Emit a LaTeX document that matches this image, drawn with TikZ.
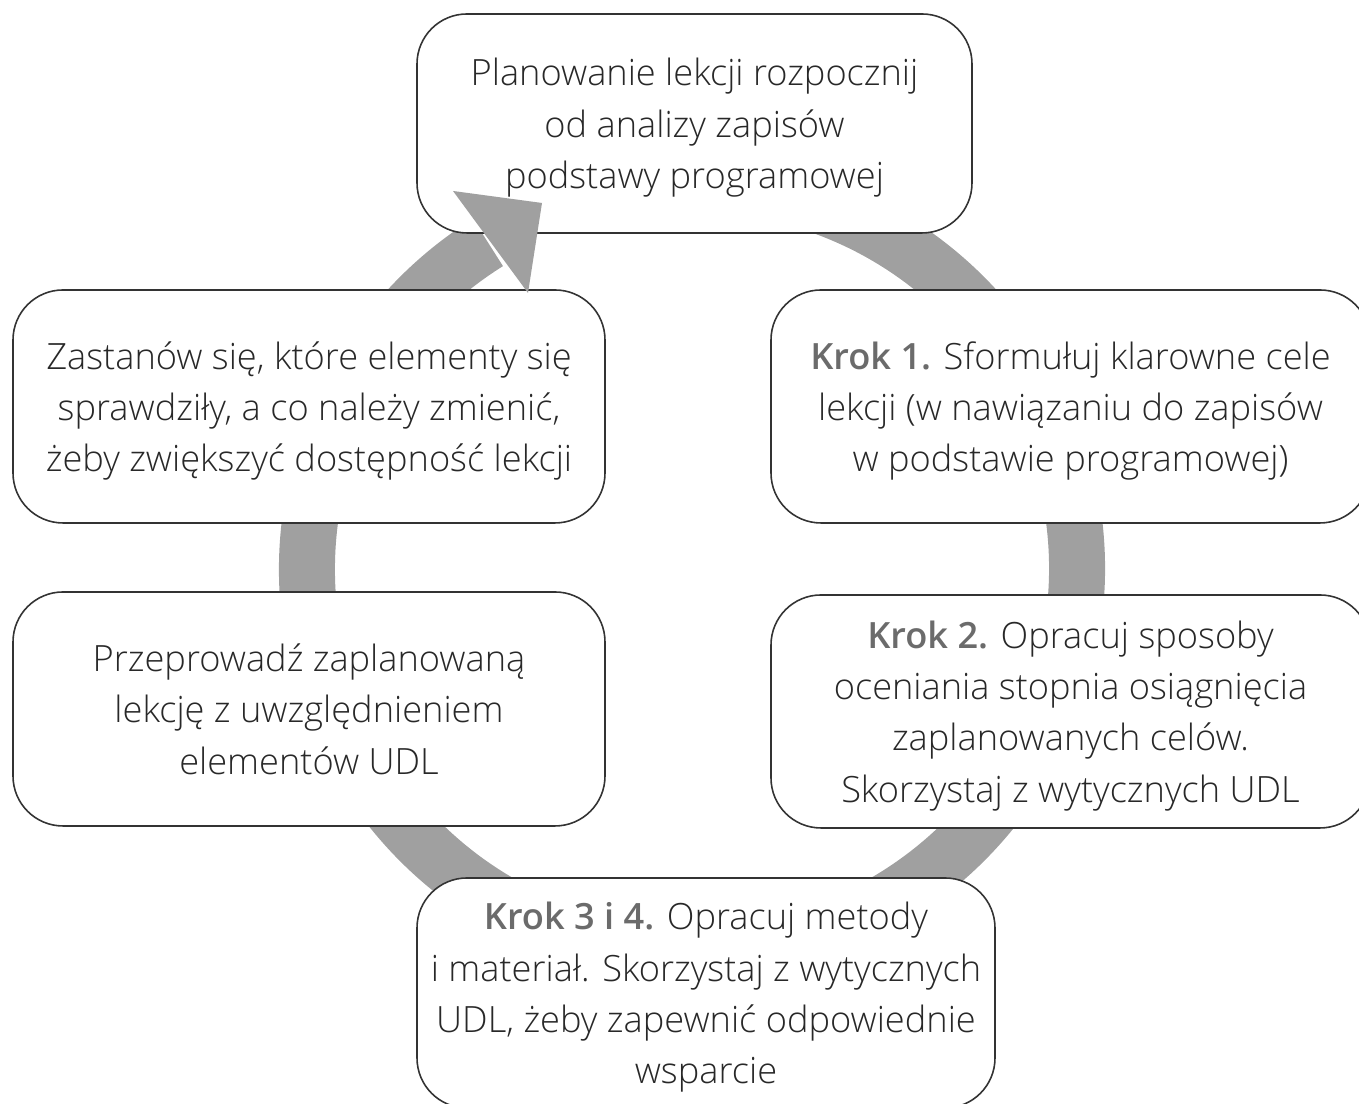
\documentclass[tikz,border=0pt]{standalone}
\usepackage{fontspec}
\setmainfont{Open Sans Light}[BoldFont={Open Sans Semibold}]
\usetikzlibrary{calc}
\definecolor{ringgray}{HTML}{A0A0A0}
\definecolor{txt}{HTML}{282828}
\definecolor{krokgray}{HTML}{6B6B6B}
\definecolor{edge}{HTML}{333333}
\newcommand{\krok}[1]{{\color{krokgray}\bfseries #1}}
\begin{document}
\begin{tikzpicture}[every node/.style={font=\fontsize{10.3}{14.6}\selectfont, text=txt},
        n/.style={draw=edge, fill=white, line width=0.45pt, rounded corners=0.5cm, align=center, inner sep=0pt, text depth=0pt}]
    \useasboundingbox (0,0) rectangle (13.59,11.04);

    % ring
    \coordinate (c) at (6.92,5.35);
    \draw[ringgray, line width=0.56cm] ($(c)+(80:3.85)$) arc[start angle=80, end angle=-238, radius=3.85];

    \node[n, minimum width=5.55cm, minimum height=2.19cm] (p) at (6.945,9.805)
        {Planowanie lekcji rozpocznij\\od analizy zapisów\\podstawy programowej};
    \node[n, minimum width=5.99cm, minimum height=2.33cm] (k1) at (10.705,6.975)
        {\krok{Krok 1.} Sformułuj klarowne cele\\lekcji (w nawiązaniu do zapisów\\w podstawie programowej)};
    \node[n, minimum width=5.99cm, minimum height=2.33cm] (k2) at (10.705,3.925)
        {\krok{Krok 2.} Opracuj sposoby\\oceniania stopnia osiągnięcia\\zaplanowanych celów.\\Skorzystaj z wytycznych UDL};
    \node[n, minimum width=5.78cm, minimum height=2.30cm] (k34) at (7.06,1.11)
        {\krok{Krok 3 i 4.} Opracuj metody\\i materiał. Skorzystaj z wytycznych\\UDL, żeby zapewnić odpowiednie\\wsparcie};
    \node[n, minimum width=5.92cm, minimum height=2.34cm] (l) at (3.09,3.95)
        {Przeprowadź zaplanowaną\\lekcję z uwzględnieniem\\elementów UDL};
    \node[n, minimum width=5.92cm, minimum height=2.33cm] (z) at (3.09,6.975)
        {Zastanów się, które elementy się\\sprawdziły, a co należy zmienić,\\żeby zwiększyć dostępność lekcji};

    % arrow head, over the boxes
    \fill[ringgray] (4.53,9.13) -- (5.42,9.01) -- (5.28,8.11) -- cycle;
\end{tikzpicture}
\end{document}
